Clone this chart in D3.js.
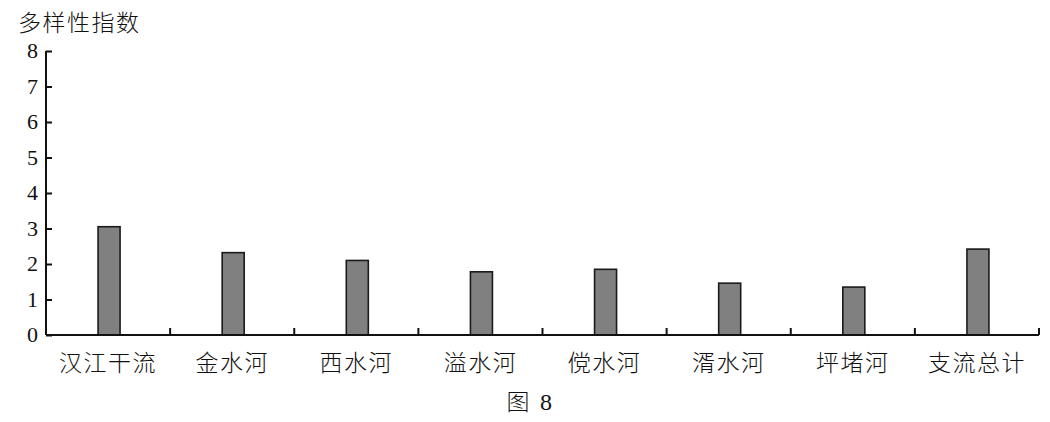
<!DOCTYPE html>
<html>
<head>
<meta charset="utf-8">
<script src="https://cdn.jsdelivr.net/npm/d3@7"></script>
<style>
  body { margin: 0; background: #fff; }
</style>
</head>
<body>
<svg id="chart"></svg>
<script>
const categories = ['汉江干流', '金水河', '西水河', '溢水河', '傥水河', '湑水河', '坪堵河', '支流总计'];
const values = [3.05, 2.32, 2.1, 1.78, 1.85, 1.46, 1.35, 2.42];
const yTicks = [0, 1, 2, 3, 4, 5, 6, 7, 8];

const width = 1050;
const height = 422;
const plotLeft = 46, plotRight = 1039, plotTop = 51, plotBottom = 335;
const cjkFont = '"Noto Sans CJK SC", sans-serif';
const numFont = '"Liberation Serif", "Times New Roman", serif';

const svg = d3.select('#chart')
  .attr('width', width)
  .attr('height', height);

const xScale = d3.scaleBand()
  .domain(categories)
  .range([plotLeft, plotRight]);

const yScale = d3.scaleLinear()
  .domain([0, 8])
  .range([plotBottom, plotTop]);

// bars
const barW = 22;
svg.append('g')
  .selectAll('rect')
  .data(categories)
  .enter()
  .append('rect')
  .attr('x', d => xScale(d) + xScale.bandwidth() / 2 - barW / 2 + 1)
  .attr('width', barW)
  .attr('y', (d, i) => yScale(values[i]))
  .attr('height', (d, i) => plotBottom - yScale(values[i]))
  .attr('fill', '#808080')
  .attr('stroke', '#1a1a1a')
  .attr('stroke-width', 1.6);

// y axis
const yAxis = svg.append('g')
  .attr('transform', `translate(${plotLeft},0)`)
  .call(d3.axisRight(yScale).tickValues(yTicks).tickSize(6).tickFormat(''));
yAxis.select('.domain').attr('stroke', '#111').attr('stroke-width', 2).attr('d', `M0,${plotTop}V${plotBottom}`);
yAxis.selectAll('.tick line').attr('stroke', '#111').attr('stroke-width', 2);

svg.append('g')
  .selectAll('text')
  .data(yTicks)
  .enter()
  .append('text')
  .attr('font-family', numFont)
  .attr('x', plotLeft - 8)
  .attr('y', d => yScale(d))
  .attr('dy', '0.33em')
  .attr('text-anchor', 'end')
  .attr('font-size', 22)
  .attr('fill', '#111')
  .text(d => d);

// x axis: ticks at category boundaries, pointing up
const bounds = categories.map(c => xScale(c) + xScale.bandwidth());
const xAxis = svg.append('g')
  .attr('transform', `translate(0,${plotBottom})`);
xAxis.append('line')
  .attr('x1', plotLeft).attr('x2', plotRight)
  .attr('stroke', '#111').attr('stroke-width', 2);
xAxis.selectAll('.xt')
  .data(bounds)
  .enter()
  .append('line')
  .classed('xt', true)
  .attr('x1', d => d).attr('x2', d => d)
  .attr('y1', 0).attr('y2', -7)
  .attr('stroke', '#111').attr('stroke-width', 2);

svg.append('g')
  .selectAll('text')
  .data(categories)
  .enter()
  .append('text')
  .attr('font-family', cjkFont)
  .attr('font-weight', 300)
  .attr('x', d => xScale(d) + xScale.bandwidth() / 2)
  .attr('y', 363)
  .attr('dy', '0.36em')
  .attr('text-anchor', 'middle')
  .attr('font-size', 23)
  .attr('letter-spacing', 1.5)
  .attr('fill', '#111')
  .text(d => d);

// axis title
svg.append('text')
  .attr('font-family', cjkFont)
  .attr('font-weight', 300)
  .attr('x', 18)
  .attr('y', 23)
  .attr('dy', '0.36em')
  .attr('font-size', 23)
  .attr('letter-spacing', 1.5)
  .attr('fill', '#111')
  .text('多样性指数');

// figure caption
svg.append('text')
  .attr('font-family', cjkFont)
  .attr('font-weight', 300)
  .attr('x', 518)
  .attr('y', 402)
  .attr('dy', '0.36em')
  .attr('text-anchor', 'middle')
  .attr('font-size', 23)
  .attr('fill', '#111')
  .text('图');
svg.append('text')
  .attr('font-family', numFont)
  .attr('x', 546)
  .attr('y', 402)
  .attr('dy', '0.33em')
  .attr('text-anchor', 'middle')
  .attr('font-size', 24)
  .attr('fill', '#111')
  .text('8');
</script>
</body>
</html>
